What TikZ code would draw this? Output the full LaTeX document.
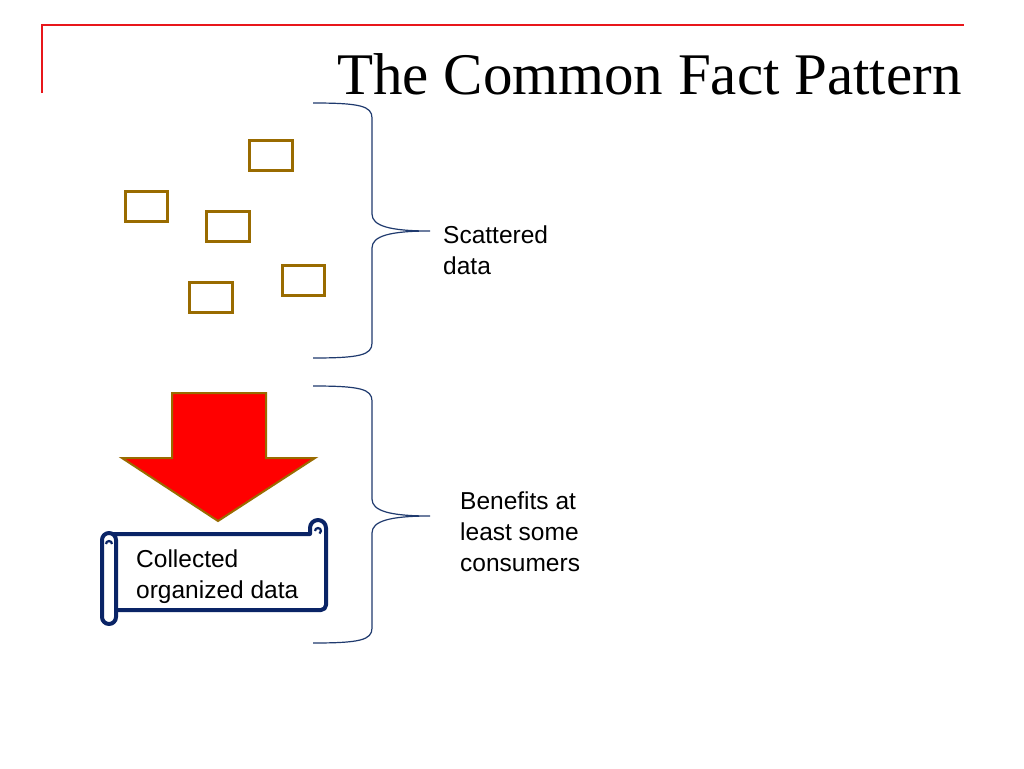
\documentclass[tikz,border=0pt]{standalone}
\usepackage{fontspec}
\setmainfont{Liberation Serif}
\newfontfamily\arialf{Liberation Sans}
\begin{document}
\begin{tikzpicture}[x=1pt,y=-1pt,
  databox/.style={draw=boxolive,line width=3pt},
  brace/.style={draw=bracenavy,line width=1.2pt},
  lbl/.style={font=\arialf\fontsize{24.5}{31}\selectfont,align=left,inner sep=0pt},
  scroll/.style={draw=scrollnavy,line width=4pt,fill=white,line join=round}]
\definecolor{boxolive}{HTML}{996B00}
\definecolor{bracenavy}{HTML}{1F3A6E}
\definecolor{scrollnavy}{HTML}{0A2466}
\definecolor{arrowred}{HTML}{FF0000}
\definecolor{titlered}{HTML}{E8161B}
\useasboundingbox[fill=white] (0,0) rectangle (1024,768);
% header line
\coordinate (hl) at (42,93);
\coordinate (hc) at (42,25);
\coordinate (hr) at (964,25);
\draw[titlered,line width=2pt] (hl) -- (hc) -- (hr);
\node[anchor=base west,inner sep=0pt,font=\fontsize{59}{61}\selectfont] (title) at (337,94) {The Common Fact Pattern};
% scattered boxes
\node[databox,minimum width=43pt,minimum height=30pt,inner sep=0pt] (b1) at (270.5,155) {};
\node[databox,minimum width=42pt,minimum height=30pt,inner sep=0pt] (b2) at (146,206) {};
\node[databox,minimum width=43pt,minimum height=30pt,inner sep=0pt] (b3) at (227.5,226) {};
\node[databox,minimum width=42pt,minimum height=30pt,inner sep=0pt] (b4) at (303,280) {};
\node[databox,minimum width=43pt,minimum height=30pt,inner sep=0pt] (b5) at (210.5,297) {};
% brace 1
\coordinate (t1) at (313,103);
\coordinate (m1) at (430,231);
\coordinate (e1) at (313,358);
\draw[brace] (t1) .. controls (360,103) and (372,106) .. (372,118)
  -- (372,214) .. controls (372,226) and (390,231) .. (m1)
  .. controls (390,231) and (372,236) .. (372,248)
  -- (372,343) .. controls (372,355) and (360,358) .. (e1);
\node[lbl,anchor=base west] (sd) at (443,274) {Scattered\\data};
% brace 2
\coordinate (t2) at (313,386);
\coordinate (m2) at (430,516);
\coordinate (e2) at (313,643);
\draw[brace] (t2) .. controls (360,386) and (372,389) .. (372,401)
  -- (372,499) .. controls (372,511) and (390,516) .. (m2)
  .. controls (390,516) and (372,521) .. (372,533)
  -- (372,628) .. controls (372,640) and (360,643) .. (e2);
\node[lbl,anchor=base west] (bc) at (460,571) {Benefits at\\least some\\consumers};
% red arrow
\draw[fill=arrowred,draw=boxolive,line width=2pt,line join=miter]
  (172,393) -- (266,393) -- (266,458) -- (315,458) -- (218,521) -- (122,458) -- (172,458) -- cycle;
% scroll
\draw[scroll] (112,534) -- (310,534) -- (310,528) arc[start angle=180,end angle=360,radius=8]
  [rounded corners=5] -- (326,610) [sharp corners] -- (112,610);
\draw[scrollnavy,line width=2.2pt] (315,531) arc[start angle=180,end angle=420,radius=3];
\draw[scroll,rounded corners=7] (102,533) rectangle (116,624);
\draw[scrollnavy,line width=2.2pt] (106,544) arc[start angle=180,end angle=360,radius=3];
\node[lbl,anchor=base west] (cod) at (136,598) {Collected\\organized data};
\end{tikzpicture}
\end{document}
